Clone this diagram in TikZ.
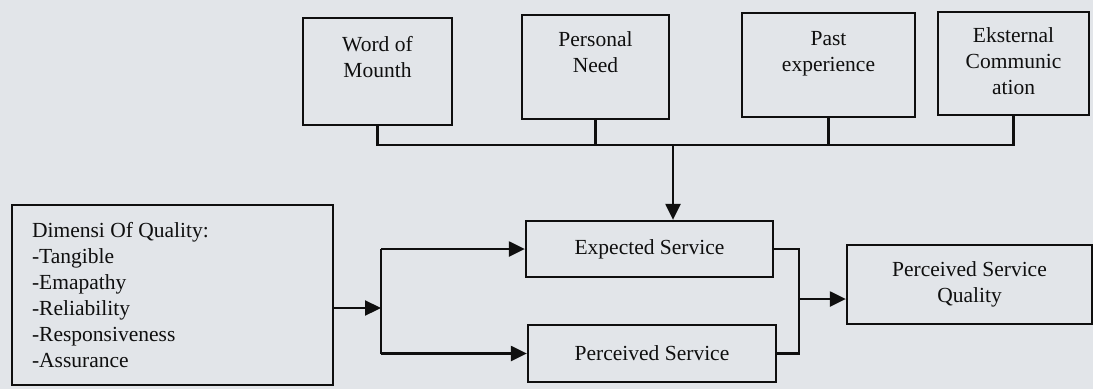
\documentclass[tikz,border=0pt]{standalone}
\usepackage{fontspec}
\setmainfont{Liberation Serif}
\usetikzlibrary{arrows.meta}
\definecolor{paper}{RGB}{226,229,233}
\definecolor{ink}{RGB}{15,15,15}
\begin{document}
\begin{tikzpicture}[x=1pt,y=-1pt,
  box/.style={draw=ink, line width=2.3pt, inner sep=0pt},
  lbl/.style={inner sep=0pt, align=center, text=ink, font=\fontsize{21.5}{26}\selectfont},
  link/.style={draw=ink, line width=2.3pt},
  arr/.style={link, -{Triangle[length=16pt,width=15pt]}}]
\fill[paper] (0,0) rectangle (1093,389);
\useasboundingbox (0,0) rectangle (1093,389);
% top boxes
\node[box, minimum width=149pt, minimum height=107pt] (wom) at (377.5,71.5) {};
\node[box, minimum width=147pt, minimum height=104pt] (pn) at (595.5,67) {};
\node[box, minimum width=173pt, minimum height=104pt] (pe) at (828.5,65) {};
\node[box, minimum width=151pt, minimum height=103pt] (ek) at (1013.5,63.5) {};
\node[lbl, anchor=north] (womt) at ([yshift=-19pt]wom.north) {Word of\\Mounth};
\node[lbl, anchor=north] (pnt) at ([yshift=-18pt]pn.north) {Personal\\Need};
\node[lbl, anchor=north] (pet) at ([yshift=-19pt]pe.north) {Past\\experience};
\node[lbl, anchor=north] (ekt) at ([yshift=-17pt]ek.north) {Eksternal\\Communic\\ation};
% middle boxes
\node[box, lbl, minimum width=247pt, minimum height=56pt] (exps) at (649.5,249) {Expected Service};
\node[box, lbl, minimum width=248pt, minimum height=57pt] (pers) at (652,353.5) {Perceived Service};
\node[box, lbl, minimum width=245pt, minimum height=79pt] (psq) at (969.5,284.5) {Perceived Service\\Quality};
% dimensions box
\node[box, minimum width=321pt, minimum height=180pt] (dim) at (172.5,295) {};
\node[lbl, align=left, anchor=north west] (dimt) at ([xshift=21pt,yshift=-18pt]dim.north west)
  {Dimensi Of Quality:\\-Tangible\\-Emapathy\\-Reliability\\-Responsiveness\\-Assurance};
% bus from top boxes
\coordinate (busy) at (0,145);
\draw[link] (wom.south) -- (wom.south |- busy) -- (ek.south |- busy) -- (ek.south);
\draw[link] (pn.south) -- (pn.south |- busy);
\draw[link] (pe.south) -- (pe.south |- busy);
\coordinate (drop) at (673,145);
\draw[arr] (drop) -- (drop |- exps.north);
% split from dimensions
\coordinate (split) at (381,308);
\draw[arr] (dim.east |- split) -- (split);
\draw[link] (split |- exps.west) -- (split |- pers.west);
\draw[arr] (split |- exps.west) -- (exps.west);
\draw[arr] (split |- pers.west) -- (pers.west);
% merge to perceived service quality
\coordinate (merge) at (799,299);
\draw[link] (exps.east) -- (merge |- exps.east) -- (merge |- pers.east) -- (pers.east);
\draw[arr] (merge) -- (merge -| psq.west);
\end{tikzpicture}
\end{document}
